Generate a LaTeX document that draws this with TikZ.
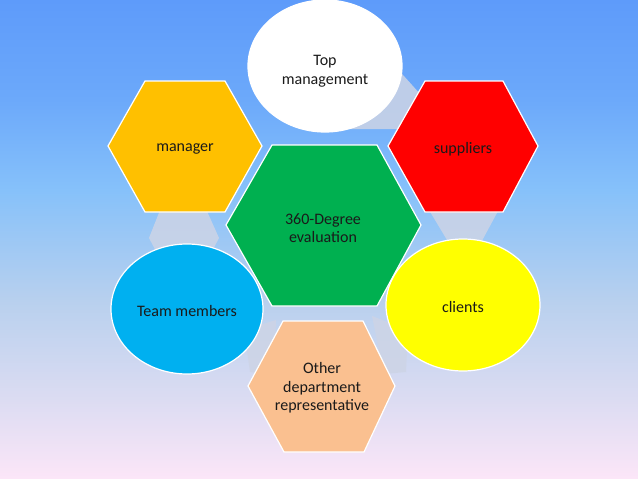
\documentclass[tikz,border=0pt]{standalone}
\usepackage{fontspec}
\setmainfont{Carlito}
\usetikzlibrary{shapes.geometric}
\definecolor{bg0}{HTML}{5E9BFA}
\definecolor{bg1}{HTML}{6CA9FA}
\definecolor{bg2}{HTML}{86C1FA}
\definecolor{bg3}{HTML}{B8D0EE}
\definecolor{bg4}{HTML}{DCDCF2}
\definecolor{bg5}{HTML}{FCE6F8}
\definecolor{linkc}{HTML}{CDD4E6}
\definecolor{cgreen}{HTML}{00B050}
\definecolor{corange}{HTML}{FFC000}
\definecolor{cred}{HTML}{FF0000}
\definecolor{cpeach}{HTML}{FAC090}
\definecolor{cblue}{HTML}{00B0F0}
\definecolor{cyellow}{HTML}{FFFF00}
\definecolor{txt}{HTML}{1A1A1A}
\begin{document}
\begin{tikzpicture}[x=1pt,y=-1pt,
  lbl/.style={align=center, font=\fontsize{16}{18.5}\selectfont, text=txt, inner sep=0pt},
  oval/.style={ellipse, draw=white, line width=1.2pt, inner sep=0pt, align=center,
    font=\fontsize{16}{18.5}\selectfont, text=txt},
  hexa/.style={draw=white, line width=1.2pt, line join=miter},
  link/.style={fill=linkc, fill opacity=0.85, draw=none}]
\useasboundingbox (0,0) rectangle (638,479);
% background gradient
\shade[top color=bg0, bottom color=bg1] (0,0) rectangle (638,100.5);
\shade[top color=bg1, bottom color=bg2] (0,100) rectangle (638,190.5);
\shade[top color=bg2, bottom color=bg3] (0,190) rectangle (638,300.5);
\shade[top color=bg3, bottom color=bg4] (0,300) rectangle (638,400.5);
\shade[top color=bg4, bottom color=bg5] (0,400) rectangle (638,479);
% connectors (ring)
\path[link] (385,55) -- (430,105) -- (420,129) -- (350,129) -- (340,100) -- cycle;
\path[link] (423,200) -- (504,200) -- (477,250) -- (453,250) -- cycle;
\path[link] (164,200) -- (202,200) -- (219,238) -- (210,255) -- (158,255) -- (149,238) -- cycle;
\path[link] (372,316) -- (408,330) -- (406,372) -- (384,374) -- cycle;
\path[link] (244,330) -- (276,320) -- (274,376) -- (250,372) -- cycle;
% hexagons
\draw[hexa, fill=cgreen] (272,145) -- (377,145) -- (421,225) -- (377,306) -- (272,306) -- (226,225) -- cycle;
\draw[hexa, fill=corange] (145,81) -- (225,81) -- (262,146) -- (225,212) -- (145,212) -- (108,146) -- cycle;
\draw[hexa, fill=cred] (425,81) -- (503,81) -- (538,146) -- (503,212) -- (425,212) -- (388,146) -- cycle;
\draw[hexa, fill=cpeach] (283,321) -- (363,321) -- (395,386) -- (364,452) -- (284,452) -- (248,386) -- cycle;
% ellipses
\node[oval, fill=white, minimum width=154pt, minimum height=132pt] (top) at (325,66) {};
\node[oval, fill=cyellow, minimum width=154pt, minimum height=132pt] (cli) at (463,305) {};
\node[oval, fill=cblue, minimum width=152pt, minimum height=130pt] (team) at (187,309) {};
% labels
\node[lbl] (topl) at (325,71) {Top\\management};
\node[lbl] (clil) at (463,307) {clients};
\node[lbl] (teaml) at (187,311) {Team members};
\node[lbl] (center) at (323,228) {360-Degree\\evaluation};
\node[lbl] (man) at (185,149) {manager};
\node[lbl] (sup) at (463,149) {suppliers};
\node[lbl] (oth) at (322,388) {Other\\department\\representative};
\end{tikzpicture}
\end{document}
